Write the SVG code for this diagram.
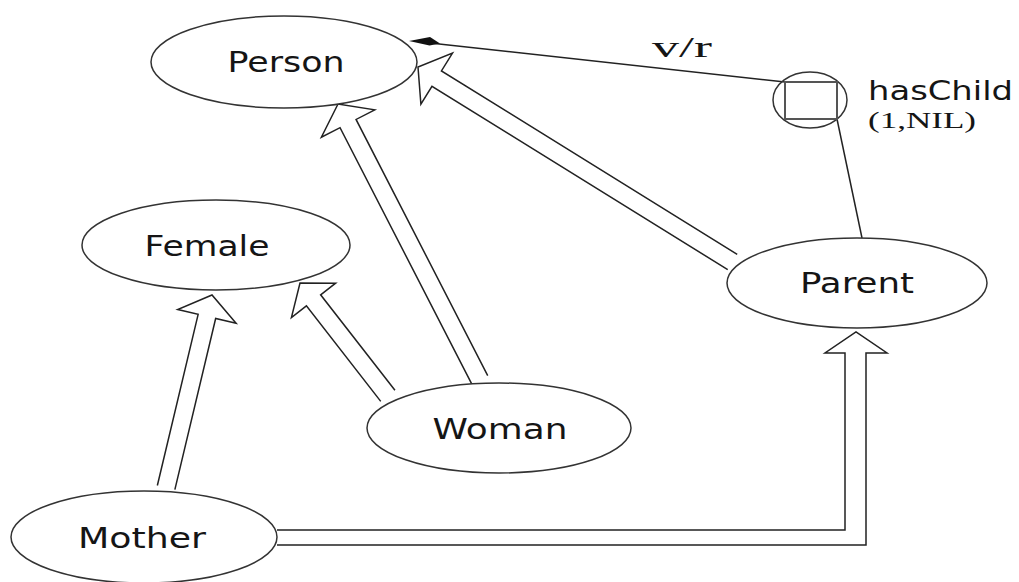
<svg xmlns="http://www.w3.org/2000/svg" width="1019" height="582" viewBox="0 0 1019 582">
<style>
.node{fill:#fff;stroke:#333;stroke-width:1.5}
.lbl{font-family:"DejaVu Sans","Open Sans",sans-serif;font-size:28px;fill:#151515;text-anchor:middle}
.isa{fill:none;stroke:#222;stroke-width:1.5;stroke-linejoin:miter}
.ln{fill:none;stroke:#222;stroke-width:1.5}
.serif{font-family:"Liberation Serif","DejaVu Serif",serif;fill:#151515}
</style>
<rect width="1019" height="582" fill="#fff"/>
<g id="connectors">
  <path class="isa" transform="translate(212,295) rotate(-76.6)" d="M -198,-9 L -22,-9 L -22,-30 L 0,0 L -22,30 L -22,9 L -198,9"/>
  <path class="isa" transform="translate(300,283) rotate(-127.9)" d="M -143,-9 L -22,-9 L -22,-28 L 0,0 L -22,28 L -22,9 L -143,9"/>
  <path class="isa" transform="translate(338,104) rotate(-117.2)" d="M -310,-9 L -22,-9 L -22,-30 L 0,0 L -22,30 L -22,9 L -310,9"/>
  <path class="isa" transform="translate(418,67) rotate(-148.2)" d="M -370,-9 L -22,-9 L -22,-30 L 0,0 L -22,30 L -22,9 L -370,9"/>
  <path class="isa" d="M 277,545 L 866,545 L 866,353 L 887,353 L 856,332 L 825,353 L 845,353 L 845,530 L 277,530"/>
  <line class="ln" x1="785" y1="82" x2="430" y2="43"/>
  <polygon points="409,41 430,37 440,43.5 429.5,45.5" fill="#111"/>
  <line class="ln" x1="837" y1="119" x2="862" y2="238"/>
  <text class="serif" x="652" y="57" font-size="30" textLength="60" lengthAdjust="spacingAndGlyphs">v/r</text>
</g>
<g id="hasChild">
  <ellipse cx="810" cy="100" rx="37" ry="28" fill="none" stroke="#333" stroke-width="1.5"/>
  <rect x="785" y="82" width="52" height="37" fill="none" stroke="#555" stroke-width="2"/>
  <text x="868" y="100" font-family="DejaVu Sans,sans-serif" font-size="26" fill="#151515" textLength="145" lengthAdjust="spacingAndGlyphs">hasChild</text>
  <text class="serif" x="868" y="128" font-size="24" fill="#2a2a5a" textLength="108" lengthAdjust="spacingAndGlyphs">(1,NIL)</text>
</g>
<g id="Person">
  <ellipse class="node" cx="284" cy="62" rx="133" ry="46"/>
  <text class="lbl" x="286" y="72" textLength="117" lengthAdjust="spacingAndGlyphs">Person</text>
</g>
<g id="Female">
  <ellipse class="node" cx="216" cy="245" rx="134" ry="45"/>
  <text class="lbl" x="207" y="256" textLength="125" lengthAdjust="spacingAndGlyphs">Female</text>
</g>
<g id="Parent">
  <ellipse class="node" cx="857" cy="283" rx="130" ry="45"/>
  <text class="lbl" x="857" y="293" textLength="114" lengthAdjust="spacingAndGlyphs">Parent</text>
</g>
<g id="Woman">
  <ellipse class="node" cx="499" cy="428" rx="132" ry="45"/>
  <text class="lbl" x="500" y="439" textLength="135" lengthAdjust="spacingAndGlyphs">Woman</text>
</g>
<g id="Mother">
  <ellipse class="node" cx="144" cy="537" rx="133" ry="46"/>
  <text class="lbl" x="142" y="548" textLength="128" lengthAdjust="spacingAndGlyphs">Mother</text>
</g>
</svg>
